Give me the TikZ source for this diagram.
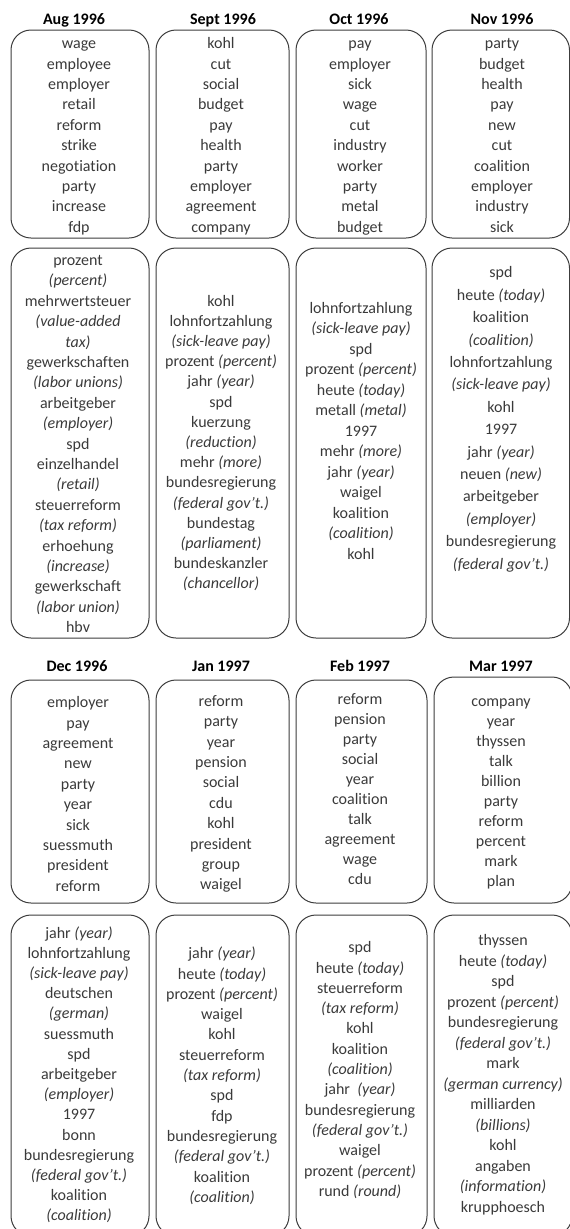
\documentclass[tikz,border=0pt]{standalone}
\usepackage{fontspec}
\setmainfont{Carlito}[Ligatures={NoCommon}]
\definecolor{wordgray}{HTML}{3A3A3A}
\definecolor{edgegray}{HTML}{3C3C3C}
\tikzset{
  boxst/.style={draw=edgegray, line width=1pt, rounded corners=20pt, inner sep=0pt, fill=none},
  ttl/.style={font=\fontsize{16}{19}\selectfont\bfseries, text=black, inner sep=0pt, text height=11pt, text depth=3.5pt},
  words/.style={align=center, inner sep=0pt, text=wordgray, font=\fontsize{16}{20.4}\selectfont},
}
\newcommand\mybox[5]{\node[boxst, minimum width=#4pt, minimum height=#5pt] (#1) at (#2,#3) {};}
\begin{document}
\begin{tikzpicture}[x=1pt,y=-1pt]
\useasboundingbox (0,0) rectangle (570,1229);
\clip (0,0) rectangle (570,1229);
% ---------- row 1 ----------
\node[ttl] (t1) at (74,20.5) {Aug 1996};
\node[ttl] (t2) at (223,20.5) {Sept 1996};
\node[ttl] (t3) at (359,20.5) {Oct 1996};
\node[ttl] (t4) at (502,20.5) {Nov 1996};
\mybox{a1}{80}{134}{138}{208}
\mybox{a2}{222.5}{134}{133}{208}
\mybox{a3}{361}{134}{130}{208}
\mybox{a4}{500.75}{134}{137.5}{208}
\mybox{b1}{80}{443}{138}{390}
\mybox{b2}{222.5}{443}{133}{390}
\mybox{b3}{361}{443}{130}{390}
\mybox{b4}{500.75}{443}{137.5}{390}
\node[words] (wa1) at (79,136.5) {\strut wage\\employee\\employer\\retail\\reform\\strike\\negotiation\\party\\increase\\fdp\strut};
\node[words] (wa2) at (221,136.5) {\strut kohl\\cut\\social\\budget\\pay\\health\\party\\employer\\agreement\\company\strut};
\node[words] (wa3) at (360,136.5) {\strut pay\\employer\\sick\\wage\\cut\\industry\\worker\\party\\metal\\budget\strut};
\node[words] (wa4) at (502,136.5) {\strut party\\budget\\health\\pay\\new\\cut\\coalition\\employer\\industry\\sick\strut};
\node[words] (wb1) at (78,445) {\strut prozent\\\textit{(percent)}\\mehrwertsteuer\\\textit{(value-added}\\\textit{tax)}\\gewerkschaften\\\textit{(labor unions)}\\arbeitgeber\\\textit{(employer)}\\spd\\einzelhandel\\\textit{(retail)}\\steuerreform\\\textit{(tax reform)}\\erhoehung\\\textit{(increase)}\\gewerkschaft\\\textit{(labor union)}\\hbv\strut};
\node[words, font=\fontsize{16}{20.2}\selectfont] (wb2) at (221,443.5) {\strut kohl\\lohnfortzahlung\\\textit{(sick-leave pay)}\\prozent \textit{(percent)}\\jahr \textit{(year)}\\spd\\kuerzung\\\textit{(reduction)}\\mehr \textit{(more)}\\bundesregierung\\\textit{(federal gov’t.)}\\bundestag\\\textit{(parliament)}\\bundeskanzler\\\textit{(chancellor)}\strut};
\node[words, font=\fontsize{16}{20.5}\selectfont] (wb3) at (361,432) {\strut lohnfortzahlung\\\textit{(sick-leave pay)}\\spd\\prozent \textit{(percent)}\\heute \textit{(today)}\\metall \textit{(metal)}\\1997\\mehr \textit{(more)}\\jahr \textit{(year)}\\waigel\\koalition\\\textit{(coalition)}\\kohl\strut};
\node[words, font=\fontsize{16}{22.4}\selectfont] (wb4) at (501,419) {\strut spd\\heute \textit{(today)}\\koalition\\\textit{(coalition)}\\lohnfortzahlung\\\textit{(sick-leave pay)}\\kohl\\1997\\jahr \textit{(year)}\\neuen \textit{(new)}\\arbeitgeber\\\textit{(employer)}\\bundesregierung\\\textit{(federal gov’t.)}\strut};
% ---------- row 2 ----------
\node[ttl] (t5) at (77,667.5) {Dec 1996};
\node[ttl] (t6) at (221,667.5) {Jan 1997};
\node[ttl] (t7) at (360,667.5) {Feb 1997};
\node[ttl] (t8) at (501,667.5) {Mar 1997};
\mybox{c1}{80}{791.5}{138}{223}
\mybox{c2}{222.5}{791.5}{133}{223}
\mybox{c3}{361.5}{791.5}{131}{223}
\mybox{c4}{503}{790}{138}{226}
\mybox{d1}{80}{1075.5}{138}{321}
\mybox{d2}{222.5}{1075.5}{133}{321}
\mybox{d3}{361.5}{1075.5}{131}{321}
\mybox{d4}{503}{1075.5}{138}{321}
\node[words] (wc1) at (78,795.5) {\strut employer\\pay\\agreement\\new\\party\\year\\sick\\suessmuth\\president\\reform\strut};
\node[words] (wc2) at (221,794) {\strut reform\\party\\year\\pension\\social\\cdu\\kohl\\president\\group\\waigel\strut};
\node[words, font=\fontsize{16}{19.9}\selectfont] (wc3) at (360,790.5) {\strut reform\\pension\\party\\social\\year\\coalition\\talk\\agreement\\wage\\cdu\strut};
\node[words, font=\fontsize{16}{19.9}\selectfont] (wc4) at (501,792.5) {\strut company\\year\\thyssen\\talk\\billion\\party\\reform\\percent\\mark\\plan\strut};
\node[words, font=\fontsize{16}{20.2}\selectfont] (wd1) at (79,1075.5) {\strut jahr \textit{(year)}\\lohnfortzahlung\\\textit{(sick-leave pay)}\\deutschen\\\textit{(german)}\\suessmuth\\spd\\arbeitgeber\\\textit{(employer)}\\1997\\bonn\\bundesregierung\\\textit{(federal gov’t.)}\\koalition\\\textit{(coalition)}\strut};
\node[words, font=\fontsize{16}{20.3}\selectfont] (wd2) at (222,1076.5) {\strut jahr \textit{(year)}\\heute \textit{(today)}\\prozent \textit{(percent)}\\waigel\\kohl\\steuerreform\\\textit{(tax reform)}\\spd\\fdp\\bundesregierung\\\textit{(federal gov’t.)}\\koalition\\\textit{(coalition)}\strut};
\node[words, font=\fontsize{16}{20.3}\selectfont] (wd3) at (360,1070.5) {\strut spd\\heute \textit{(today)}\\steuerreform\\\textit{(tax reform)}\\kohl\\koalition\\\textit{(coalition)}\\jahr\ \ \textit{(year)}\\bundesregierung\\\textit{(federal gov’t.)}\\waigel\\prozent \textit{(percent)}\\rund \textit{(round)}\strut};
\node[words, font=\fontsize{16}{20.5}\selectfont] (wd4) at (503,1075) {\strut thyssen\\heute \textit{(today)}\\spd\\prozent \textit{(percent)}\\bundesregierung\\\textit{(federal gov’t.)}\\mark\\\textit{(german currency)}\\milliarden\\\textit{(billions)}\\kohl\\angaben\\\textit{(information)}\\krupphoesch\strut};
\end{tikzpicture}
\end{document}
